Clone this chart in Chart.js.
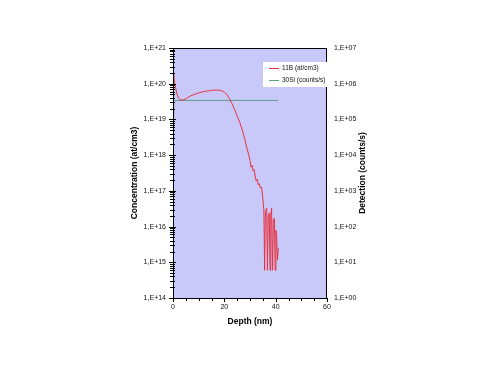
<!DOCTYPE html>
<html>
<head>
<meta charset="utf-8">
<script src="https://cdn.jsdelivr.net/npm/chart.js@4"></script>
<style>
  html, body { margin: 0; padding: 0; background: #fff; }
  #wrap { width: 500px; height: 375px; }
</style>
</head>
<body>
<div id="wrap"><canvas id="c" width="500" height="375"></canvas></div>
<script>
// depth (nm) and 11B concentration (at/cm3)
const boronDepth = [0, 0.3, 0.6, 1, 1.5, 2, 2.5, 3, 3.5, 4, 5, 6, 7, 8, 9, 10, 11, 12, 13, 14, 15, 16, 17, 18, 19, 20, 21, 22, 23, 24, 25, 26, 27, 28, 28.5, 29, 29.5, 30, 30.4, 30.8, 31.2, 31.6, 32, 32.4, 32.8, 33.2, 33.6, 34, 34.5, 35, 35.4, 35.7, 36, 36.5, 36.8, 37.1, 37.5, 37.8, 38.1, 38.4, 38.8, 39.1, 39.5, 39.8, 40.1, 40.4, 40.7, 41];
const boronConc = [1.8e20, 1.6e20, 1.1e20, 7.9e19, 5.2e19, 4.2e19, 3.7e19, 3.5e19, 3.5e19, 3.5e19, 3.8e19, 4.2e19, 4.6e19, 4.9e19, 5.2e19, 5.5e19, 5.8e19, 6.0e19, 6.2e19, 6.3e19, 6.5e19, 6.6e19, 6.6e19, 6.6e19, 6.3e19, 5.8e19, 5.0e19, 3.8e19, 2.75e19, 1.9e19, 1.26e19, 8.3e18, 5.0e18, 2.8e18, 1.9e18, 1.4e18, 1.0e18, 7.1e17, 4.6e17, 5.2e17, 3.6e17, 3.9e17, 2.6e17, 1.9e17, 2.1e17, 1.5e17, 1.6e17, 1.2e17, 1.25e17, 6.0e16, 2.9e16, 6.0e14, 2.5e16, 3.3e16, 6.0e14, 1.8e16, 2.4e16, 6.0e14, 2.0e16, 3.3e16, 6.0e14, 1.6e16, 1.7e16, 6.0e14, 7.9e15, 5.1e15, 1.15e15, 2.5e15];

// 30Si detection (counts/s)
const siDepth = [0, 0.3, 10, 20, 30, 41];
const siCounts = [1.1e5, 3.4e5, 3.4e5, 3.4e5, 3.4e5, 3.4e5];

const seriesLabels = ['11B (at/cm3)', '30Si (counts/s)'];
const leftTickLabels = ['1,E+14', '1,E+15', '1,E+16', '1,E+17', '1,E+18', '1,E+19', '1,E+20', '1,E+21'];
const rightTickLabels = ['1,E+00', '1,E+01', '1,E+02', '1,E+03', '1,E+04', '1,E+05', '1,E+06', '1,E+07'];
const depthTicks = [0, 20, 40, 60];
const rightTitle = 'Detection (counts/s)';

const RED = '#e8323f';
const GREEN = '#5a9e8a';
const FONT = "'Liberation Sans', Arial, sans-serif";

// plot background + frame + minor ticks + legend + right title
const frame = {
  id: 'frame',
  beforeDatasetsDraw(chart) {
    const { ctx, chartArea: a } = chart;
    ctx.save();
    ctx.fillStyle = '#c9c9f9';
    ctx.fillRect(a.left, a.top, a.right - a.left, a.bottom - a.top);
    ctx.restore();
  },
  afterDatasetsDraw(chart) {
    const { ctx, chartArea: a, scales } = chart;
    ctx.save();
    ctx.strokeStyle = '#000';
    ctx.lineWidth = 1;
    ctx.strokeRect(a.left + 0.5, a.top + 0.5, a.right - a.left - 1, a.bottom - a.top);

    // left axis log ticks
    ctx.beginPath();
    for (let e = 14; e < 21; e++) {
      for (let m = 1; m < 10; m++) {
        const y = Math.round(scales.y.getPixelForValue(m * Math.pow(10, e))) + 0.5;
        const len = m === 1 ? 4 : 3;
        ctx.moveTo(a.left - len, y);
        ctx.lineTo(a.left + (m === 1 ? 3 : 2), y);
      }
    }
    const yTop = Math.round(scales.y.getPixelForValue(1e21)) + 0.5;
    ctx.moveTo(a.left - 4, yTop);
    ctx.lineTo(a.left + 3, yTop);
    // depth ticks every 5 nm
    for (let d = 0; d <= 60; d += 5) {
      const x = Math.round(scales.x.getPixelForValue(d)) + 0.5;
      ctx.moveTo(x, a.bottom);
      ctx.lineTo(x, a.bottom + (d % 20 === 0 ? 4 : 3));
    }
    ctx.stroke();

    // legend box
    const lx = 263, ly = 62, lw = 66, lh = 25;
    ctx.fillStyle = '#fff';
    ctx.fillRect(lx, ly, lw, lh);
    ctx.font = '6.5px ' + FONT;
    ctx.textBaseline = 'middle';
    chart.data.datasets.forEach((ds, i) => {
      const yy = ly + 6 + i * 12;
      ctx.strokeStyle = ds.borderColor;
      ctx.beginPath();
      ctx.moveTo(lx + 6, yy + 0.5);
      ctx.lineTo(lx + 16, yy + 0.5);
      ctx.stroke();
      ctx.fillStyle = '#111';
      ctx.fillText(ds.label, lx + 19, yy + 0.5);
    });

    // right axis title, reading bottom to top like the left one
    ctx.translate(363, (a.top + a.bottom) / 2);
    ctx.rotate(-Math.PI / 2);
    ctx.font = 'bold 8.5px ' + FONT;
    ctx.fillStyle = '#000';
    ctx.textAlign = 'center';
    ctx.fillText(rightTitle, 0, 0);
    ctx.restore();
  }
};

new Chart(document.getElementById('c'), {
  type: 'line',
  data: {
    datasets: [
      {
        label: seriesLabels[0],
        data: boronDepth.map((d, i) => ({ x: d, y: boronConc[i] })),
        borderColor: RED,
        borderWidth: 1,
        pointRadius: 0,
        tension: 0,
        yAxisID: 'y',
        order: 0
      },
      {
        label: seriesLabels[1],
        data: siDepth.map((d, i) => ({ x: d, y: siCounts[i] })),
        borderColor: GREEN,
        borderWidth: 1,
        pointRadius: 0,
        tension: 0,
        yAxisID: 'y2',
        order: 1
      }
    ]
  },
  options: {
    responsive: false,
    animation: false,
    devicePixelRatio: 1,
    layout: { padding: { left: 125, right: 128, top: 48, bottom: 42 } },
    plugins: { legend: { display: false }, tooltip: { enabled: false } },
    scales: {
      x: {
        type: 'linear',
        min: 0, max: 60,
        afterBuildTicks: s => { s.ticks = depthTicks.map(v => ({ value: v })); },
        afterFit: s => { s.height = 35; },
        grid: { display: false, drawTicks: false },
        border: { display: false },
        ticks: { padding: 5, color: '#111', font: { family: FONT, size: 7 }, maxRotation: 0 },
        title: { display: true, text: 'Depth (nm)', color: '#000', font: { family: FONT, size: 8.5, weight: 'bold' }, padding: { top: 0, bottom: 6 } }
      },
      y: {
        type: 'logarithmic',
        position: 'left',
        min: 1e14, max: 1e21,
        afterBuildTicks: s => { s.ticks = leftTickLabels.map((t, i) => ({ value: Math.pow(10, 14 + i) })); },
        afterFit: s => { s.width = 48; },
        grid: { display: false, drawTicks: false },
        border: { display: false },
        ticks: {
          padding: 7, color: '#111', font: { family: FONT, size: 7 },
          callback: (v, i) => leftTickLabels[i]
        },
        title: { display: true, text: 'Concentration (at/cm3)', color: '#000', font: { family: FONT, size: 8.5, weight: 'bold' }, padding: { top: 5, bottom: 0 } }
      },
      y2: {
        type: 'logarithmic',
        position: 'right',
        min: 1, max: 1e7,
        afterBuildTicks: s => { s.ticks = rightTickLabels.map((t, i) => ({ value: Math.pow(10, i) })); },
        afterFit: s => { s.width = 45; },
        grid: { display: false, drawTicks: false },
        border: { display: false },
        ticks: {
          padding: 7, color: '#111', font: { family: FONT, size: 7 },
          callback: (v, i) => rightTickLabels[i]
        },
        title: { display: false }
      }
    }
  },
  plugins: [frame]
});
</script>
</body>
</html>
